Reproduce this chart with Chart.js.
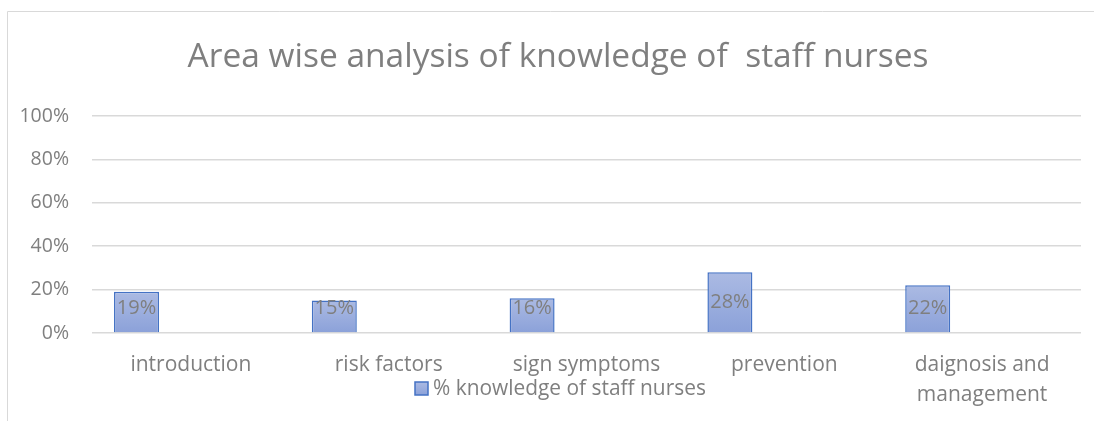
<!DOCTYPE html>
<html>
<head>
<meta charset="utf-8">
<script src="https://cdn.jsdelivr.net/npm/chart.js@4"></script>
<style>
  html, body { margin: 0; padding: 0; background: #fff; overflow: hidden; }
  #wrap { width: 1094px; height: 421px; }
</style>
</head>
<body>
<div id="wrap"><canvas id="grafico" width="1094" height="421"></canvas></div>
<script>
// dados do gráfico
const categorias = ['introduction', 'risk factors', 'sign symptoms', 'prevention', ['daignosis and', 'management']];
const conhecimento = [19, 15, 16, 28, 22];
const serieVazia = [0, 0, 0, 0, 0];
const nomeSerie = '% knowledge of staff nurses';
const titulo = 'Area wise analysis of knowledge of  staff nurses';

const FONTE = "'Open Sans', sans-serif";
const CINZA = '#7f7f7f';

// gradiente de cada barra (mais claro em cima)
function corBarra(ctx) {
  const chart = ctx.chart;
  if (!chart.chartArea || ctx.raw === undefined) return '#9badde';
  const y = chart.scales.y;
  const topo = y.getPixelForValue(ctx.raw);
  const base = y.getPixelForValue(0);
  const g = chart.ctx.createLinearGradient(0, topo, 0, base);
  g.addColorStop(0, '#abbae3');
  g.addColorStop(1, '#8ba1d9');
  return g;
}

// moldura, título, rótulos das barras e legenda
const extras = {
  id: 'extras',
  beforeDraw(chart) {
    const c = chart.ctx;
    c.save();
    c.strokeStyle = '#d9d9d9';
    c.lineWidth = 1;
    c.beginPath();
    c.moveTo(7.5, 421);
    c.lineTo(7.5, 11.5);
    c.lineTo(1094, 11.5);
    c.stroke();
    c.restore();
  },
  afterDatasetsDraw(chart) {
    const c = chart.ctx;
    const meta = chart.getDatasetMeta(0);
    c.save();
    c.font = '20px ' + FONTE;
    c.fillStyle = CINZA;
    c.textAlign = 'center';
    c.textBaseline = 'middle';
    meta.data.forEach((el, i) => {
      const y = Math.min((el.y + el.base) / 2, el.base - 24);
      c.fillText(conhecimento[i] + '%', el.x, y);
    });
    c.restore();
  },
  afterDraw(chart) {
    const c = chart.ctx;
    c.save();
    // título
    c.font = '33.5px ' + FONTE;
    c.fillStyle = CINZA;
    c.textAlign = 'center';
    c.textBaseline = 'middle';
    c.fillText(titulo, 558, 57);
    // legenda
    const g = c.createLinearGradient(0, 382, 0, 395);
    g.addColorStop(0, '#abbae3');
    g.addColorStop(1, '#8ba1d9');
    c.fillStyle = g;
    c.fillRect(415, 382, 13, 13);
    c.strokeStyle = '#4472c4';
    c.lineWidth = 1.5;
    c.strokeRect(415, 382, 13, 13);
    c.font = '20.9px ' + FONTE;
    c.fillStyle = CINZA;
    c.textAlign = 'left';
    c.fillText(nomeSerie, 433, 389);
    c.restore();
  }
};

new Chart(document.getElementById('grafico'), {
  type: 'bar',
  data: {
    labels: categorias,
    datasets: [
      { label: nomeSerie, data: conhecimento, backgroundColor: corBarra, borderColor: '#4472c4', borderWidth: 1.5 },
      { label: 's2', data: serieVazia, backgroundColor: 'rgba(0,0,0,0)', borderWidth: 0 },
      { label: 's3', data: serieVazia, backgroundColor: 'rgba(0,0,0,0)', borderWidth: 0 }
    ]
  },
  options: {
    responsive: false,
    animation: false,
    categoryPercentage: 0.825,
    barPercentage: 0.827,
    layout: { padding: { left: 0, right: 13, top: 116, bottom: 0 } },
    plugins: {
      legend: { display: false },
      tooltip: { enabled: false },
      title: { display: false }
    },
    scales: {
      x: {
        grid: { display: false, drawTicks: false },
        border: { display: false },
        ticks: { color: CINZA, font: { family: FONTE, size: 21, lineHeight: 1.42 }, padding: 17, maxRotation: 0, autoSkip: false },
        afterFit(s) { s.height = 88; }
      },
      y: {
        min: 0,
        max: 100,
        ticks: { stepSize: 20, color: CINZA, font: { family: FONTE, size: 19.5 }, padding: 23, callback: v => v + '%' },
        grid: { color: '#d9d9d9', lineWidth: 1.5, drawTicks: false },
        border: { display: false },
        afterFit(s) { s.width = 92; }
      }
    }
  },
  plugins: [extras]
});
</script>
</body>
</html>
